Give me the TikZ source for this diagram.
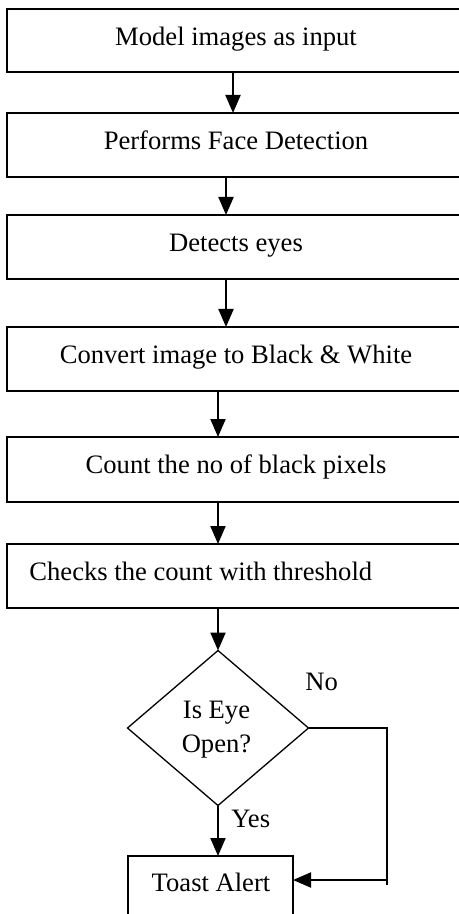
\documentclass[tikz,border=0pt]{standalone}
\usepackage{fontspec}
\setmainfont{Liberation Serif}
\usetikzlibrary{shapes.geometric,arrows.meta}
\begin{document}
\begin{tikzpicture}[x=0.5pt,y=-0.5pt,
  box/.style={draw,line width=1pt,rectangle,minimum width=229pt,inner sep=0,outer sep=0},
  thinbox/.style={draw,line width=0.65pt,rectangle,inner sep=0,outer sep=0},
  lbl/.style={anchor=base,inner sep=0,font=\fontsize{13.3}{17}\selectfont},
  arr/.style={line width=1pt,-{Triangle[length=9pt,width=7.5pt]}},
  thinline/.style={line width=0.65pt},
]
\useasboundingbox (0,0) rectangle (459,914);
\clip (0,0) rectangle (459,914);
% process boxes
\node[box,minimum height=31.5pt] (b1) at (236,40.5) {};
\node[box,minimum height=32pt] (b2) at (236,145) {};
\node[box,minimum height=32pt] (b3) at (236,247) {};
\node[box,minimum height=32pt] (b4) at (236,359) {};
\node[box,minimum height=32.5pt] (b5) at (236,469.5) {};
\node[box,minimum height=32pt] (b6) at (236,576) {};
% texts
\node[lbl] (t1) at (236,45.5) {Model images as input};
\node[lbl] (t2) at (236,149.5) {Performs Face Detection};
\node[lbl] (t3) at (236,251.5) {Detects eyes};
\node[lbl] (t4) at (236,363.5) {Convert image to Black \& White};
\node[lbl] (t5) at (236,473.5) {Count the no of black pixels};
\node[lbl,anchor=base west] (t6) at (29,580.5) {Checks the count with threshold};
% decision
\node[draw,diamond,line width=0.65pt,minimum width=90.5pt,minimum height=77.5pt,inner sep=0,outer sep=0] (d) at (218,728) {};
\node[inner sep=0,align=center,font=\fontsize{13.3}{17}\selectfont] (dt) at (216.5,730) {Is Eye\\Open?};
% toast alert
\node[thinbox,minimum width=82.5pt,minimum height=42pt] (ta) at (210.5,898) {};
\node[lbl] (tat) at (211,891) {Toast Alert};
% arrows
\draw[arr] ([xshift=-1.5pt]b1.south) -- ([xshift=-1.5pt]b2.north);
\draw[arr] ([xshift=-5pt]b2.south) -- ([xshift=-5pt]b3.north);
\draw[arr] ([xshift=-5pt]b3.south) -- ([xshift=-5pt]b4.north);
\draw[arr] ([xshift=-9pt]b4.south) -- ([xshift=-9pt]b5.north);
\draw[arr] ([xshift=-9pt]b5.south) -- ([xshift=-9pt]b6.north);
\draw[arr] ([xshift=-9pt]b6.south) -- (d.north);
\draw[arr] (d.south) -- (d.south |- ta.north);
% No branch
\coordinate (nc) at (387,885);
\coordinate (na) at (387,880);
\draw[thinline] (d.east) -- (d.east -| nc) -- (nc);
\draw[arr] (na) -- (na -| ta.east);
% branch labels
\node[lbl,anchor=base west] (no) at (305,690) {No};
\node[lbl,anchor=base west] (yes) at (231,827) {Yes};
\end{tikzpicture}
\end{document}
